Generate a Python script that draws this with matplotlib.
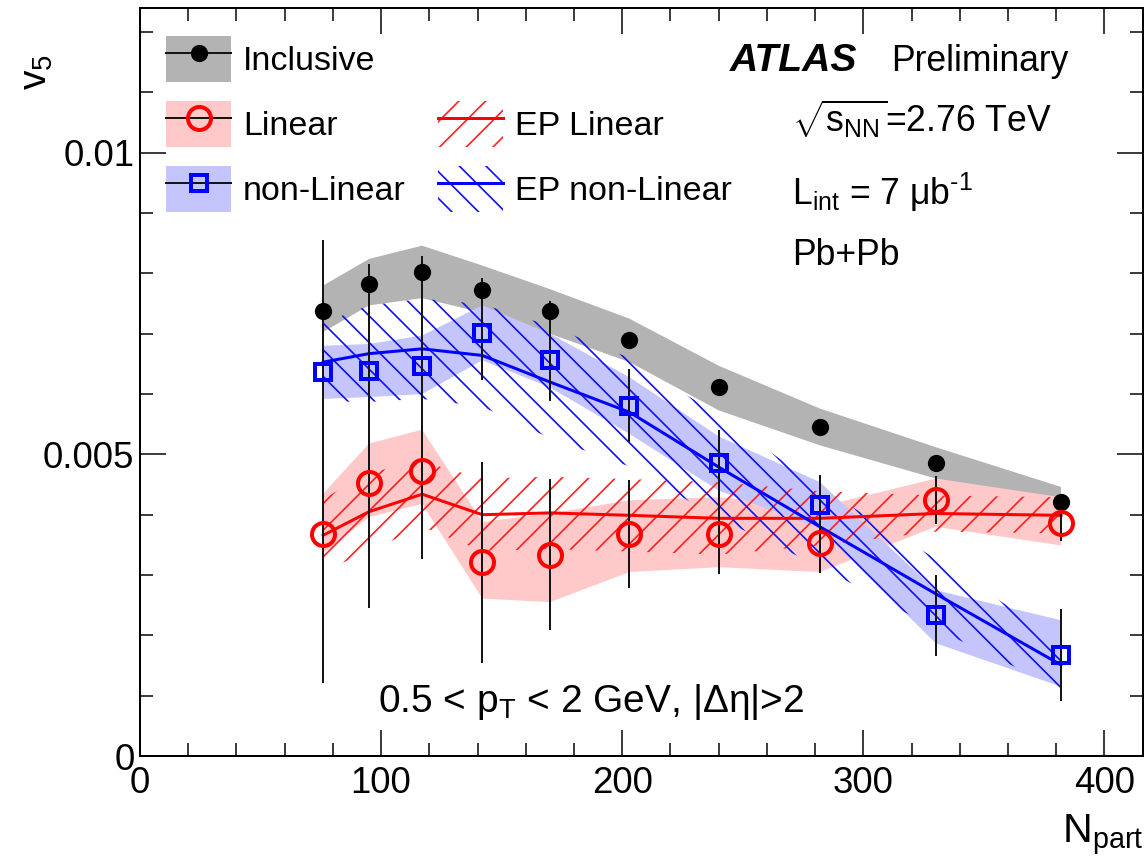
import matplotlib
matplotlib.use('Agg')
import matplotlib.pyplot as plt
from matplotlib.patches import Patch
from matplotlib.lines import Line2D
from matplotlib.ticker import MultipleLocator, FixedLocator, FixedFormatter
import numpy as np

# ---------------- data ----------------
npart = [76, 95, 117, 142, 170, 203, 240, 282, 330, 382]

incl = [0.00737, 0.00783, 0.00803, 0.00773, 0.00737, 0.00689, 0.00611, 0.00546, 0.00486, 0.00421]
incl_stat = [0.0004, 0.00033, 0.00026, 0.0002, 0.00018, 0.00014, 0.0001, 0.0001, 0.00008, 0.00008]
incl_sys_lo = [0.00703, 0.00747, 0.00759, 0.00735, 0.00700, 0.00653, 0.00573, 0.00515, 0.00460, 0.00415]
incl_sys_hi = [0.00780, 0.00824, 0.00846, 0.00813, 0.00774, 0.00725, 0.00647, 0.00576, 0.00512, 0.00446]

lin = [0.00368, 0.00452, 0.00473, 0.00321, 0.00334, 0.00368, 0.00368, 0.00353, 0.00424, 0.00386]
lin_stat = [0.00247, 0.00207, 0.00146, 0.00167, 0.00125, 0.00089, 0.00066, 0.0005, 0.0004, 0.0003]
lin_sys_lo = [0.00336, 0.00396, 0.00418, 0.00261, 0.00255, 0.00305, 0.00313, 0.00305, 0.00380, 0.00349]
lin_sys_hi = [0.00435, 0.00518, 0.00541, 0.00388, 0.00402, 0.00424, 0.00429, 0.00413, 0.00460, 0.00429]

nonlin = [0.00636, 0.00638, 0.00647, 0.00701, 0.00656, 0.00581, 0.00485, 0.00416, 0.00233, 0.00167]
nonlin_stat = [0.0022, 0.0015, 0.0013, 0.00078, 0.00067, 0.0006, 0.00055, 0.0005, 0.00067, 0.00076]
nonlin_sys_lo = [0.00592, 0.00595, 0.00600, 0.00656, 0.00611, 0.00534, 0.00440, 0.00377, 0.00187, 0.00115]
nonlin_sys_hi = [0.00680, 0.00683, 0.00697, 0.00747, 0.00700, 0.00628, 0.00530, 0.00454, 0.00275, 0.00225]

ep_lin = [0.00366, 0.00405, 0.00434, 0.00400, 0.00403, 0.00399, 0.00394, 0.00394, 0.00402, 0.00399]
ep_lin_err = [0.0006, 0.00065, 0.00054, 0.0006, 0.0006, 0.0006, 0.0006, 0.00045, 0.0003, 0.0003]

ep_nonlin = [0.00653, 0.00667, 0.00675, 0.00664, 0.00620, 0.00570, 0.00479, 0.00380, 0.00269, 0.00151]
ep_nonlin_err = [0.00065, 0.0008, 0.00083, 0.00085, 0.00093, 0.0009, 0.00085, 0.00066, 0.00058, 0.0004]

x_ticks = [0, 100, 200, 300, 400]
y_ticks = [0, 0.005, 0.01]
y_ticklabels = ['0', '0.005', '0.01']

# ---------------- style ----------------
plt.rcParams['font.family'] = ['Liberation Sans', 'DejaVu Sans']
plt.rcParams['mathtext.fontset'] = 'custom'
plt.rcParams['mathtext.rm'] = 'Liberation Sans'
plt.rcParams['mathtext.it'] = 'Liberation Sans:italic'
plt.rcParams['mathtext.bf'] = 'Liberation Sans:bold'
plt.rcParams['mathtext.sf'] = 'Liberation Sans'
plt.rcParams['hatch.linewidth'] = 0.75

DPI = 160
W, H = 1146, 861
PT = 72.0 / DPI  # points per pixel

GRAY = '#b3b3b3'
PINK = '#ffc9c9'
LBLUE = '#c5c5fd'
RED = '#ff0000'
BLUE = '#0000ff'
HRED = '#ff2020'
HBLUE = '#1010f0'
EBAR = '#151515'

fig = plt.figure(figsize=(W / DPI, H / DPI), dpi=DPI)
ax = fig.add_axes([140 / W, 1 - 756 / H, (1143 - 140) / W, (756 - 8) / H])

# systematic bands
ax.fill_between(npart, incl_sys_lo, incl_sys_hi, facecolor=GRAY, lw=0, zorder=1)
ax.fill_between(npart, lin_sys_lo, lin_sys_hi, facecolor=PINK, lw=0, zorder=1)
ax.fill_between(npart, nonlin_sys_lo, nonlin_sys_hi, facecolor=LBLUE, lw=0, zorder=1)

# EP hatched bands
epl = np.array(ep_lin); epl_e = np.array(ep_lin_err)
epn = np.array(ep_nonlin); epn_e = np.array(ep_nonlin_err)
ax.fill_between(npart, epl - epl_e, epl + epl_e, facecolor='none', edgecolor=HRED,
                hatch='//', lw=0, zorder=2)
ax.fill_between(npart, epn - epn_e, epn + epn_e, facecolor='none', edgecolor=HBLUE,
                hatch='\\\\', lw=0, zorder=2)
ax.plot(npart, ep_lin, color=RED, lw=3 * PT, zorder=3)
ax.plot(npart, ep_nonlin, color=BLUE, lw=3 * PT, zorder=3)

# data points
elw = 2 * PT
ax.errorbar(npart, incl, yerr=incl_stat, fmt='o', ms=15 * PT, mfc='black', mec='black',
            ecolor=EBAR, elinewidth=elw, capsize=0, zorder=5)
ax.errorbar(npart, lin, yerr=lin_stat, fmt='o', ms=23 * PT, mfc='none', mec=RED, mew=4 * PT,
            ecolor=EBAR, elinewidth=elw, capsize=0, zorder=5)
ax.errorbar(npart, nonlin, yerr=nonlin_stat, fmt='s', ms=16 * PT, mfc='none', mec=BLUE, mew=4 * PT,
            ecolor=EBAR, elinewidth=elw, capsize=0, zorder=5)

# axes
ax.set_xlim(0, 416)
ax.set_ylim(0, 0.0124)
ax.xaxis.set_major_locator(FixedLocator(x_ticks))
ax.xaxis.set_minor_locator(MultipleLocator(20))
ax.yaxis.set_major_locator(FixedLocator(y_ticks))
ax.yaxis.set_major_formatter(FixedFormatter(y_ticklabels))
ax.yaxis.set_minor_locator(MultipleLocator(0.001))
ax.tick_params(which='both', direction='in', top=True, right=True, width=1.5 * PT,
               labelsize=16.5)
ax.tick_params(which='major', length=26 * PT)
ax.tick_params(which='minor', length=13 * PT)
ax.tick_params(axis='x', pad=4.5)
ax.tick_params(axis='y', pad=2.5)
for s in ax.spines.values():
    s.set_linewidth(2 * PT)

def fx(px):
    return px / W

def fy(py):
    return 1 - py / H

# axis titles
fig.text(fx(37), fy(72), r'v$_{\mathregular{5}}$', rotation=90, ha='center', va='center', fontsize=17.5)
fig.text(fx(1143), fy(842), r'N$_{\mathregular{part}}$', ha='right', va='baseline', fontsize=18.5)

# labels
fig.text(fx(730), fy(71), 'ATLAS', fontsize=17.6, fontweight='bold', fontstyle='italic',
         ha='left', va='baseline')
fig.text(fx(891), fy(71), 'Preliminary', fontsize=16, ha='left', va='baseline')
fig.text(fx(792), fy(132), r'$\sqrt{\mathregular{s_{NN}}}$=2.76 TeV', fontsize=16, ha='left', va='baseline')
fig.text(fx(792), fy(205), 'L$_{\\mathregular{int}}$ = 7 μb$^{\\mathregular{\u20101}}$', fontsize=16,
         ha='left', va='baseline')
fig.text(fx(792), fy(265), 'Pb+Pb', fontsize=16, ha='left', va='baseline')
fig.text(fx(378), fy(712), r'0.5 < p$_{\mathregular{T}}$ < 2 GeV, |Δη|>2', fontsize=17.5,
         ha='left', va='baseline')

# legends
LFS = 15.3
em = LFS / PT  # font size in pixels
box_h = 46.0
hh = (box_h / em - 0.245) / 0.65  # matplotlib handle height giving a box of box_h px
h_incl = (Patch(facecolor=GRAY, edgecolor='none'),
          Line2D([], [], color=EBAR, lw=elw, marker='o', ms=15 * PT, mfc='black', mec='black'))
h_lin = (Patch(facecolor=PINK, edgecolor='none'),
         Line2D([], [], color=EBAR, lw=elw, marker='o', ms=23 * PT, mfc='none', mec=RED, mew=4 * PT))
h_nonlin = (Patch(facecolor=LBLUE, edgecolor='none'),
            Line2D([], [], color=EBAR, lw=elw, marker='s', ms=16 * PT, mfc='none', mec=BLUE, mew=4 * PT))
h_eplin = (Patch(facecolor='none', edgecolor=HRED, hatch='//', lw=0),
           Line2D([], [], color=RED, lw=3 * PT))
h_epnonlin = (Patch(facecolor='none', edgecolor=HBLUE, hatch='\\\\', lw=0),
              Line2D([], [], color=BLUE, lw=3 * PT))

common = dict(frameon=False, fontsize=LFS, handlelength=65 / em, handleheight=hh,
              labelspacing=(65 - box_h) / em, handletextpad=12 / em, borderpad=0, borderaxespad=0)
leg1 = fig.legend([h_incl, h_lin, h_nonlin], ['Inclusive', 'Linear', 'non-Linear'],
                  loc='upper left', bbox_to_anchor=(fx(166), fy(36)), **common)
leg2 = fig.legend([h_eplin, h_epnonlin], ['EP Linear', 'EP non-Linear'],
                  loc='upper left', bbox_to_anchor=(fx(438), fy(101)), **common)

fig.savefig('out.png', dpi=DPI)
